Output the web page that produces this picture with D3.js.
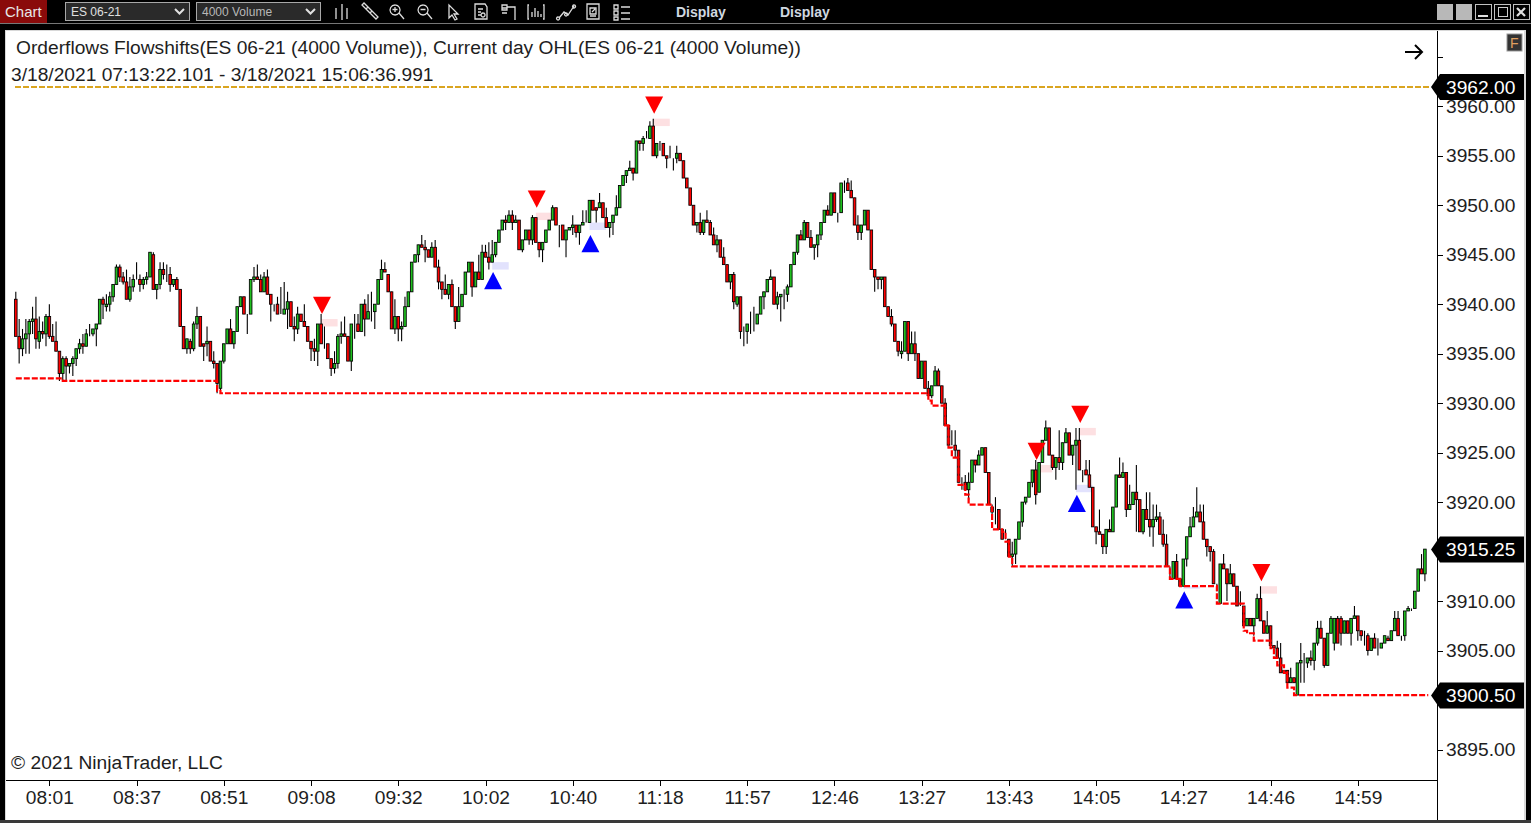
<!DOCTYPE html>
<html><head><meta charset="utf-8">
<script src="https://cdnjs.cloudflare.com/ajax/libs/d3/7.8.5/d3.min.js"></script>
<style>html,body{margin:0;padding:0;background:#000;overflow:hidden}svg{display:block}text{font-family:"Liberation Sans",Arial,sans-serif}</style>
</head><body><svg id="c" width="1531" height="823"></svg>
<script>
const titleText="Orderflows Flowshifts(ES 06-21 (4000 Volume)), Current day OHL(ES 06-21 (4000 Volume))";
const rangeText="3/18/2021 07:13:22.101 - 3/18/2021 15:06:36.991";
const copyrightText="\u00A9 2021 NinjaTrader, LLC";
const timeLabels=["08:01","08:37","08:51","09:08","09:32","10:02","10:40","11:18","11:57","12:46","13:27","13:43","14:05","14:27","14:46","14:59"];
const timeBars=[10,36,62,88,114,140,166,192,218,244,270,296,322,348,374,400];
const priceTicks=[3965,3960,3955,3950,3945,3940,3935,3930,3925,3920,3915,3910,3905,3900,3895];
const priceLabelsHidden=[3965,3915,3900];
const opens=[
3940.5,3936.75,3935.5,3936.5,3937,3938.25,3938.5,3936.25,3937.25,3937,
3938.75,3936.75,3936.25,3935.25,3933,3934.5,3933.75,3934,3934.5,3935.5,
3936,3935.75,3937,3937,3937.5,3938,3940.5,3939.75,3940,3940.75,
3942,3943.75,3942.75,3942.25,3940.5,3941.75,3942.5,3942.5,3942,3942.5,
3942.75,3945,3941.5,3942,3943.5,3943,3943,3942,3942.5,3941.5,
3937.75,3935.5,3936.25,3935.5,3938,3938.75,3936,3936,3936.25,3934.25,
3934,3931.5,3934.25,3936,3937.5,3936,3937.25,3939.75,3940.75,3939,
3939,3942.5,3942.75,3942.5,3941.25,3942.75,3941,3940,3940,3939,
3939,3939.5,3940.25,3937.75,3937.5,3939,3938.25,3937.75,3936.25,3935.5,
3935.25,3938,3936,3936,3934.5,3933.5,3934,3936.75,3937,3936.75,
3934.25,3938,3938,3937.25,3940,3938.5,3939.25,3939.25,3940,3942.5,
3943.5,3943,3941.25,3937.5,3938.75,3937.5,3937.75,3939.75,3941.25,3944.25,
3945,3946,3945.75,3945.5,3944.75,3945.75,3943.75,3942.25,3941.5,3941,
3942,3939.75,3938.25,3939.75,3941,3943.25,3944.25,3941.75,3943.25,3942.5,
3945.25,3944.75,3944.25,3945,3946.25,3947.5,3948.5,3948.25,3949,3948.25,
3948.5,3945.5,3946.5,3947.5,3946.5,3948.75,3946.25,3945.5,3946.25,3947.5,
3948.5,3949.75,3948,3948,3946.5,3947.5,3947.75,3948,3947.25,3948,
3948.25,3948.25,3950.5,3949.75,3949.75,3950.25,3948.75,3947.75,3948.25,3949,
3949.75,3952,3953,3953.5,3953.75,3953.25,3956.5,3956.25,3956.75,3956.75,
3958,3955,3956.25,3956.25,3955,3954.75,3954.75,3954.75,3955.25,3954.5,
3952.75,3951.75,3950,3948,3948.25,3947.25,3948.5,3948.25,3947,3946,
3946.5,3944.75,3944,3942.25,3943,3940,3940.75,3937.25,3937.25,3938,
3938,3938,3939,3940.75,3941.25,3942.5,3942.75,3940,3940.75,3941,
3941,3941.75,3944,3945.25,3947,3946.5,3948.25,3946.75,3945.75,3946,
3947,3948.25,3949.5,3949,3951.25,3949.25,3949.25,3952.25,3952.25,3951.5,
3950.75,3948,3947.25,3948,3949.5,3947.5,3943.5,3942.75,3942.5,3942.75,
3939.75,3938.75,3938,3936.25,3935,3935.25,3938.25,3935,3936,3935,
3932.5,3934.25,3931.5,3930.75,3931.75,3933.25,3931.75,3930,3927.75,3925.75,
3925.75,3925.25,3922,3922,3921.25,3922,3924.25,3923.75,3924.75,3925.5,
3923,3919.5,3919.25,3919.25,3917.25,3916.25,3916.25,3914.5,3914.75,3916.25,
3918,3920,3920.5,3922,3923.25,3921,3924,3926.25,3927.5,3924.75,
3923.5,3924.5,3924,3926,3927,3924.75,3925.75,3926.25,3923.25,3923.25,
3922.75,3921.5,3917.5,3917,3916.75,3915.5,3917.25,3917,3919.5,3922.75,
3922.5,3923,3919.25,3919.75,3921,3920.25,3917,3919.25,3918.25,3917.5,
3918.25,3918.5,3916.75,3915.75,3913.5,3912.25,3914,3912.25,3911.5,3914.25,
3916.5,3917.5,3918.5,3919,3918,3916.25,3915.5,3915,3911.75,3909.75,
3913.75,3913.25,3911.75,3912.75,3911.5,3909.5,3909.5,3907.5,3908.25,3907.5,
3908.25,3910.25,3908,3906.75,3907.5,3905.5,3905.25,3904.25,3902.75,3903,
3901.75,3902.25,3900.5,3903.75,3904,3903.75,3904.25,3904,3905.75,3907.25,
3906.25,3903.5,3906.75,3905.75,3908.25,3908.25,3906.75,3908,3906.75,3908.25,
3908.5,3907,3906.5,3906.5,3905,3906.25,3905.25,3905.25,3905.75,3906.25,
3906,3907,3908.25,3906.5,3906.5,3909,3909.25,3909.25,3911,3913.25,3912.75];
const closes=[
3936.75,3935.5,3936.5,3937,3938.25,3938.5,3936.5,3937.25,3937,3938.75,
3936.75,3936.25,3935.25,3933,3934.5,3933.75,3934,3934.5,3935.5,3936,
3935.75,3937,3937,3937.5,3938,3940.5,3940,3940,3940.75,3942,
3943.75,3942.75,3942.25,3940.5,3941.75,3942.5,3942.5,3942,3942.5,3942.75,
3945.25,3941.5,3942,3943.5,3943,3943,3942,3942.5,3941.5,3937.75,
3935.5,3936.5,3935.5,3938,3938.75,3935.75,3935.75,3936.25,3934.25,3934,
3932,3934.25,3936,3937.5,3936,3937.25,3939.75,3940.75,3939,3939,
3942.5,3942.75,3942.5,3941.25,3942.75,3941,3940,3940,3939,3939,
3939.5,3940.25,3937.75,3937.5,3939,3938.25,3937.75,3936.25,3935.5,3935.25,
3938,3936,3936,3934.5,3933.5,3934,3936.75,3937,3936.75,3934.25,
3938,3938,3937.25,3940,3938.5,3939.25,3939.25,3940,3942.5,3943.5,
3943.25,3941.25,3937.5,3938.75,3937.5,3937.75,3939.75,3941.25,3944.25,3945,
3946,3945.75,3945.5,3944.75,3945.75,3943.75,3942.25,3941.5,3941,3942,
3939.75,3938.25,3939.75,3941,3943.25,3944.25,3941.75,3943.25,3942.5,3945.25,
3944.75,3944.25,3945,3946.25,3947.5,3948.5,3948.25,3949,3948.25,3948.5,
3945.5,3946.5,3947.5,3946.5,3948.75,3946.25,3945.5,3946.25,3947.5,3948.5,
3949.75,3948,3948,3946.5,3947.5,3947.75,3948,3947.25,3948,3948.25,
3948.25,3950.5,3949.5,3949.5,3950.25,3948.75,3947.75,3948.25,3949,3949.75,
3952,3953,3953.5,3953.75,3953.25,3956.5,3956.25,3956.75,3956.75,3958,
3955,3956.25,3956.25,3955,3954.75,3954.75,3954.75,3955.25,3954.5,3952.75,
3951.75,3950,3948,3948.25,3947.25,3948.5,3948.25,3947,3946,3946.5,
3944.75,3944,3942.25,3943,3940.25,3940.75,3937.25,3937.25,3938,3938,
3938,3939,3940.75,3941.25,3942.5,3942.75,3940,3940.75,3941,3941,
3941.75,3944,3945.25,3947,3946.5,3948.25,3946.75,3945.75,3946,3947,
3948.25,3949.5,3949,3951.25,3949.25,3949.25,3952.25,3952.25,3951.5,3950.75,
3948,3947.25,3948,3949.5,3947.5,3943.5,3942.75,3942.5,3942.75,3939.75,
3938.75,3938,3936.25,3935.25,3935.25,3938.25,3935,3936,3935,3932.5,
3934.25,3931.5,3930.75,3931.75,3933.25,3931.75,3930,3927.75,3925.75,3925.75,
3925.25,3922,3922,3921.25,3922,3924.25,3923.75,3924.75,3925.5,3923,
3919.75,3919,3919.25,3917.25,3916.25,3916.25,3914.5,3914.75,3916.25,3918,
3920,3920.5,3922,3923.25,3920.75,3924,3926.25,3927.5,3924.75,3923.5,
3924.5,3924,3926,3927,3924.75,3925.75,3926.25,3923.25,3923.25,3922.75,
3921.5,3917.5,3917,3916.75,3915.5,3917.25,3917,3919.5,3922.75,3922.5,
3923,3919.25,3919.75,3921,3920.25,3917,3919.25,3918.25,3917.5,3918.25,
3918.5,3916.75,3915.75,3913.5,3913.5,3914,3912.25,3911.5,3914.25,3916.5,
3917.5,3918.5,3919,3918,3916.25,3915.5,3915,3911.75,3911.75,3913.75,
3913.25,3911.75,3912.75,3911.5,3909.5,3909.5,3907.5,3908.25,3907.5,3908.25,
3910.25,3908,3906.75,3907.5,3905.5,3905.25,3904.25,3902.75,3903,3901.75,
3902.25,3901.75,3903.75,3904,3904,3904.25,3904,3905.75,3907.25,3906.25,
3903.5,3906.75,3908.25,3908.25,3905.75,3906.75,3908,3906.75,3908.25,3908.5,
3907,3906.5,3906.5,3905,3906.25,3905.25,3905.25,3905.75,3906.5,3906,
3907,3908.25,3906.5,3906.5,3909,3909.25,3909.25,3911,3913.25,3912.75,3915.25];
const highs=[
3941.25,3938.5,3937.5,3938.5,3938.5,3939.75,3940.75,3938.75,3938.25,3939,
3940,3938,3938.25,3935.25,3934.75,3934.75,3934,3934.75,3935.5,3936.5,
3937,3937.5,3938,3937.5,3938,3940.5,3940.75,3941,3941.25,3942,
3944,3944,3943.25,3943.5,3942.75,3943,3944.25,3943,3942.75,3943.25,
3945.25,3945.25,3942,3944.25,3944.25,3944,3943.75,3942.5,3942.75,3941.5,
3937.75,3936.5,3936.5,3938.25,3939.75,3938.75,3936,3937.75,3936.25,3935.25,
3934,3934.25,3936,3937.5,3938.5,3937.25,3939.75,3940.75,3940.75,3939,
3942.5,3943.75,3944,3943,3943.25,3943.5,3941,3940,3940.75,3941.75,
3942.25,3941.25,3940.25,3938.75,3939.75,3939,3940,3937.75,3936.25,3936.5,
3938,3939,3937.75,3936,3934.5,3935.25,3937,3938.25,3938.75,3936.75,
3938,3939,3939,3940,3940.5,3941,3941.25,3940,3942.5,3944.5,
3944.25,3943,3941.25,3940.5,3938.75,3938.25,3940.75,3941.25,3944.25,3945,
3946,3947,3946.5,3945.5,3946.25,3946.5,3944.5,3942.25,3943,3942,
3942.5,3939.75,3941.75,3941,3943.25,3944.25,3944.25,3943.25,3945,3946,
3946,3946.25,3946.5,3946.25,3947.5,3948.5,3949,3949.5,3949.5,3949,
3948.5,3946.5,3947.5,3947.5,3949,3948.75,3946.25,3946.25,3947.5,3948.5,
3950,3949.75,3948,3948,3947.5,3947.75,3949,3948,3948,3949.5,
3949.5,3950.5,3950.5,3949.75,3951.25,3950.25,3949.75,3948.25,3949,3951,
3952,3953,3953.5,3954.5,3953.75,3956.5,3956.5,3957,3957.5,3958.5,
3958.75,3956.25,3956.5,3956.25,3955,3956,3954.75,3956,3955.25,3954.5,
3952.75,3951.75,3950,3948.25,3949.25,3948.5,3949.5,3948.5,3947.75,3947,
3946.5,3945.75,3944,3943,3943.25,3940.75,3940.75,3937.75,3938,3939.25,
3939.75,3939,3940.75,3941.25,3942.5,3943.5,3942.75,3941.25,3941,3941.5,
3942,3944,3945.25,3947,3947.5,3948.5,3948.25,3947.5,3946,3947,
3948.25,3949.5,3950,3951.25,3951.25,3949.25,3952.25,3952.5,3952.75,3952.5,
3950.75,3949,3948,3949.5,3949.5,3947.5,3943.5,3942.75,3942.75,3942.75,
3939.75,3939.5,3938,3936.25,3936.25,3938.25,3938.25,3937.25,3937.25,3935,
3934.25,3934.25,3932.25,3931.75,3933.75,3933.5,3931.75,3930.5,3927.75,3927.25,
3927.25,3925.25,3922.5,3922.75,3923,3924.25,3924.25,3925.25,3925.5,3925.5,
3923,3919.75,3920.5,3919.25,3917.25,3917.25,3916.25,3916,3916.25,3918,
3920,3920.5,3922,3923.25,3924.25,3924,3926.25,3928.25,3927.5,3924.75,
3924.5,3927.25,3926,3927.5,3927,3925.75,3927.5,3927.5,3923.25,3924.25,
3924.25,3921.5,3917.5,3919.25,3916.75,3917.25,3918.25,3919.5,3922.75,3924.5,
3924,3923,3921.75,3921,3923.75,3920.25,3919.25,3921,3921,3919.75,
3919.75,3919,3918.25,3916.75,3913.5,3914,3914.75,3912.25,3914.25,3916.5,
3918.5,3919.5,3921.5,3919.75,3919.75,3916.25,3915.5,3915.25,3911.75,3913.75,
3914.75,3913.25,3913.75,3912.75,3911.5,3911,3909.5,3908.25,3908.25,3908.25,
3910.75,3911.5,3908,3909,3907.5,3905.5,3906,3905.75,3903,3903,
3903.25,3902.25,3903.75,3905.75,3904.75,3904.25,3905,3905.75,3908,3908,
3906.25,3906.75,3908.5,3908.25,3908.5,3908.5,3908,3908,3908.25,3909.5,
3908.5,3907,3907,3906.75,3906.25,3906.75,3906.25,3905.75,3906.5,3906.5,
3907,3909,3909,3906.5,3909,3909.5,3909.25,3911,3913.25,3914.75,3915.25];
const lows=[
3936.75,3934,3934.75,3935,3935,3937,3935.5,3935.5,3936.5,3935.75,
3936.5,3936.25,3935.25,3932.25,3932.25,3932.25,3933,3932.75,3933.75,3935,
3935,3935.75,3936.75,3936.75,3935.75,3938,3938.5,3939.25,3939.25,3940.25,
3942,3942.25,3942,3940.5,3940.25,3941.25,3942.5,3941.25,3941.5,3942,
3942.75,3941.5,3940.5,3941.5,3942.5,3942.25,3941.25,3941.75,3941.5,3937.75,
3935.5,3935,3935,3935.25,3937.5,3935.75,3934.25,3934.75,3934.25,3933.5,
3931,3931.25,3934,3936,3936,3935.5,3937.25,3939.75,3939,3937,
3939,3942.25,3942.5,3941.25,3941.25,3941,3938.25,3939.25,3939,3939,
3939,3937.5,3937.75,3936.25,3937,3938.25,3937.75,3936.25,3934.25,3934.25,
3933.75,3936,3935.5,3934.5,3932.75,3933,3933.5,3936,3936.75,3934.25,
3933.25,3936.5,3937.25,3937.25,3936.75,3938.5,3938.25,3937.5,3940,3942.5,
3943.25,3941.25,3937.5,3937,3936.25,3936.25,3937.75,3939.75,3941.25,3944.25,
3944.25,3945.75,3944.25,3944.75,3944.75,3943.75,3941.5,3940.5,3941,3940.5,
3939.75,3937.5,3938.25,3939.75,3941,3943.25,3940.75,3941.75,3942.5,3942.5,
3944.75,3943.5,3944.25,3944.75,3946.25,3947.5,3947.5,3948.25,3947.5,3948.25,
3945.5,3945.25,3946.5,3946,3946,3946.25,3944.75,3944.25,3946.25,3947.5,
3948.5,3948,3945.75,3946.5,3944.75,3947.5,3947,3946.75,3946,3948,
3948.25,3948.25,3949.5,3948.25,3949.75,3948.75,3947.75,3946.75,3947,3949,
3949.75,3952,3952.25,3953.5,3952.5,3953.25,3955.5,3955.5,3956.75,3956.75,
3955,3954.75,3955.5,3955,3953.75,3954.75,3953.5,3954.25,3954.5,3952.75,
3951.75,3950,3948,3947.25,3947,3947,3948.25,3947,3946,3945.25,
3944.75,3944,3942.25,3941.5,3939.5,3939.75,3936.5,3935.75,3936,3937,
3937.25,3938,3939,3939.5,3941.25,3942.5,3940,3939.5,3938.25,3939.5,
3940.25,3941.75,3944,3945,3946.5,3946.5,3946.75,3945.75,3944.5,3944.75,
3946.5,3948.25,3949,3949,3949.25,3948.25,3949.25,3951.25,3951.5,3950.75,
3948,3946.5,3946.5,3948,3947.5,3943.5,3941.25,3941.5,3941.5,3939.75,
3938.75,3937.75,3936.25,3934.75,3934.5,3935.25,3934.25,3935,3934.25,3932.5,
3932.5,3931.5,3930.75,3930.5,3931.75,3931.75,3930,3927.75,3925.75,3925.75,
3924.5,3922,3921.25,3921.25,3920.25,3922,3923,3923.75,3924.75,3923,
3919.75,3918.5,3917.75,3917.25,3916.25,3916.25,3914.5,3913.5,3913.75,3916.25,
3917.5,3919.75,3920.5,3921.5,3919.75,3921,3924,3926.25,3924.75,3923.25,
3922.25,3923.25,3923.25,3926,3924.75,3923.75,3921.25,3923.25,3922,3922.75,
3921.5,3917.5,3915.75,3916.75,3914.75,3914.75,3917,3917,3919.5,3922.5,
3922.5,3918.5,3919.25,3919.75,3917,3917,3916.75,3918.25,3916.5,3915.5,
3918,3916.75,3915.5,3913.5,3912.25,3912.25,3912.25,3911.5,3911.5,3913.5,
3916.5,3917.5,3918.5,3918,3916.25,3914.5,3914,3911.75,3911,3909.75,
3913.25,3910,3911.75,3911.5,3909.5,3909.5,3907.5,3907.5,3907.5,3906.5,
3908.25,3908,3906.75,3906.75,3905.5,3905.25,3904.25,3902.75,3902.75,3901.75,
3901.75,3901.75,3900.5,3901.75,3901.75,3903.25,3903.5,3903,3905.5,3906.25,
3903.25,3903.5,3906.75,3905,3905.75,3905.5,3906.75,3906.75,3905.5,3908.25,
3906,3906,3905.5,3904.5,3905,3905.25,3904.5,3905.25,3905.75,3906,
3906,3907,3906.5,3906,3906,3909,3909,3909.25,3911,3912.75,3912];
const dayLowBars=[0,14,60,61,272,273,277,278,279,281,283,284,291,294,295,296,297,344,347,358,366,367,369,374,375,376,378,379,381,421];
const dayLowValues=[3932.5,3932.25,3931.25,3931,3930.25,3929.75,3927.75,3925.5,3924.5,3921.75,3920.75,3919.75,3917.25,3917,3916,3914.5,3913.5,3912.25,3911.5,3909.75,3907,3906.75,3906,3905.25,3904.25,3903.5,3902.75,3901.25,3900.5,3900.5];
const dayHigh=3962;
const lastPrice=3915.25;
const dayLowLast=3900.5;
const downBars=[91,155,190,304,317,371];
const downPrices=[3939,3949.75,3959.25,3924.25,3928,3912];
const upBars=[142,171,316,348];
const upPrices=[3943.25,3947,3920.75,3911];
const pinkTop=[3938.5,3949.25,3958.75,3923.75,3927.5,3911.5];
const pinkBottom=[3937.75,3948.5,3958,3923,3926.75,3910.75];
const blueTop=[3944.25,3948.25,3921.75,3911.5];
const blueBottom=[3943.5,3947.5,3921,3911.25];

const svg=d3.select("#c");
const textCol="#1e1e1e";
const x=d3.scaleLinear().domain([0,420]).range([15.8,1424.9]);
const y=d3.scaleLinear().domain([3962,3895]).range([86.5,749.5]);

// ---- window chrome
svg.append("rect").attr("width",1531).attr("height",823).attr("fill","#000");
svg.append("rect").attr("x",0).attr("y",0).attr("width",47).attr("height",23).attr("fill","#8a0a0a");
svg.append("text").attr("x",5).attr("y",17).attr("fill","#e8e8e8").attr("font-size",15).text("Chart");
[[65,124,"ES 06-21","#e0e0e0"],[196,124,"4000 Volume","#b8b8b8"]].forEach(d=>{
  svg.append("rect").attr("x",d[0]+.5).attr("y",2.5).attr("width",d[1]).attr("height",18).attr("fill","#2a2a2a").attr("stroke","#a8a8a8");
  svg.append("text").attr("x",d[0]+6).attr("y",16).attr("fill",d[3]).attr("font-size",12).text(d[2]);
  svg.append("path").attr("d",`M${d[0]+110} 9l4.5 4.5l4.5 -4.5`).attr("fill","none").attr("stroke","#e0e0e0").attr("stroke-width",2);
});
const ic=svg.append("g").attr("fill","none").attr("stroke","#dcdcdc").attr("stroke-width",1.3);
[
 "M336 8v11M342 4v16M347 8v11M336 10v6M342 7v9M347 10v6",
 "M362 5l14 14l2 -2l-14 -14zM366 9l2 -2M370 13l2 -2",
 "M395 5a5 5 0 1 0 .1 0M399 13l5 6M395 7v5M392.500 9.500h5",
 "M423 5a5 5 0 1 0 .1 0M427 13l5 6M420.500 9.500h5",
 "M449 5l0 13l3 -3l3 5l2 -1l-3 -5l4 0z",
 "M475 4h10l2 3v12h-12zM478 9h5M478 12h3M478 15h3M483 13a2 2 0 1 0 .1 0",
 "M502 5h5v5h-5zM502 13h5M507 7h8v13M502 8h5",
 "M529 5h-1v14h1M543 5h1v14h-1M532 17v-5M535 17v-9M538 17v-6M541 17v-3",
 "M559 18l5 -6l4 3l6 -9M558 17a1.500 1.500 0 1 0 .1 0M566 13a1.500 1.500 0 1 0 .1 0M574 5a1.500 1.500 0 1 0 .1 0",
 "M587 4h12v15h-12zM590 8h6v6h-6zM590 16h6M592 12l3 -3",
 "M614 5h4v4h-4zM614 11h4v4h-4zM614 17h4v3h-4zM621 7h9M621 13h9M621 19h9"
].forEach(p=>ic.append("path").attr("d",p));
["Display","Display"].forEach((t,i)=>svg.append("text").attr("x",[676,780][i]).attr("y",17).attr("fill","#d0d8e0").attr("font-size",14).attr("font-weight","bold").text(t));
[1437,1456].forEach(a=>svg.append("rect").attr("x",a).attr("y",4).attr("width",16).attr("height",16).attr("fill","#b8b8b8"));
[1475,1494,1513].forEach(a=>svg.append("rect").attr("x",a+.5).attr("y",4.5).attr("width",16).attr("height",15).attr("fill","#000").attr("stroke","#c0c0c0"));
svg.append("path").attr("d","M1478 16h10").attr("stroke","#e0e0e0").attr("stroke-width",2);
svg.append("rect").attr("x",1498.5).attr("y",7.5).attr("width",9).attr("height",9).attr("fill","none").attr("stroke","#ccc");
svg.append("path").attr("d","M1517 8l8 8M1525 8l-8 8").attr("stroke","#e0e0e0").attr("stroke-width",2.2);
svg.append("rect").attr("x",0).attr("y",23).attr("width",1531).attr("height",1).attr("fill","#777");

// ---- chart panel
svg.append("rect").attr("x",5).attr("y",30).attr("width",1521).attr("height",790).attr("fill","#d8d8d8");
svg.append("rect").attr("x",6).attr("y",31).attr("width",1518).attr("height",789).attr("fill","#fff");
svg.append("rect").attr("x",0).attr("y",820).attr("width",1531).attr("height",3).attr("fill","#3a3a3a");

// ---- pale zones
const g=svg.append("g");
g.selectAll(".pk").data(downBars).join("rect").attr("x",d=>x(d)).attr("width",16.5)
 .attr("y",(d,i)=>y(pinkTop[i])).attr("height",(d,i)=>y(pinkBottom[i])-y(pinkTop[i])).attr("fill","#fde0e2");
g.selectAll(".bl").data(upBars).join("rect").attr("x",d=>x(d)).attr("width",16.5)
 .attr("y",(d,i)=>y(blueTop[i])).attr("height",(d,i)=>y(blueBottom[i])-y(blueTop[i])).attr("fill","#e2e2fd");

// ---- candles
const idx=d3.range(opens.length);
const cg=svg.append("g");
cg.selectAll(".w").data(idx).join("line").attr("x1",i=>x(i)).attr("x2",i=>x(i))
 .attr("y1",i=>y(highs[i])).attr("y2",i=>y(lows[i])).attr("stroke","#000").attr("stroke-width",1.1);
cg.selectAll(".b").data(idx).join("rect").attr("x",i=>x(i)-1.3).attr("width",2.6)
 .attr("y",i=>y(Math.max(opens[i],closes[i])))
 .attr("height",i=>y(Math.min(opens[i],closes[i]))-y(Math.max(opens[i],closes[i])))
 .attr("fill",i=>closes[i]>opens[i]?"#1fbf1f":"#ff0000").attr("stroke","#000").attr("stroke-width",.85);

// ---- day high / low
svg.append("line").attr("x1",15).attr("x2",1430).attr("y1",87).attr("y2",87)
 .attr("stroke","#daa520").attr("stroke-width",2).attr("stroke-dasharray","6,2");
const low=d3.line().x(i=>x(dayLowBars[i])).y(i=>y(dayLowValues[i])).curve(d3.curveStepAfter);
svg.append("path").attr("d",low(d3.range(dayLowBars.length))).attr("fill","none").attr("stroke","#ff0000").attr("stroke-width",2.2).attr("stroke-dasharray","6,2");

// ---- triangles
const tw=9,th=17.3;
svg.selectAll(".dn").data(downBars).join("path").attr("fill","#ff0000")
 .attr("d",(d,i)=>{const a=x(d)+.9,b=y(downPrices[i]);return `M${a} ${b}L${a-tw} ${b-th}L${a+tw} ${b-th}Z`;});
svg.selectAll(".up").data(upBars).join("path").attr("fill","#0000ff")
 .attr("d",(d,i)=>{const a=x(d)+.9,b=y(upPrices[i]);return `M${a} ${b}L${a-tw} ${b+th}L${a+tw} ${b+th}Z`;});

// ---- axes
const fs=19.2;
svg.append("line").attr("x1",1437.5).attr("x2",1437.5).attr("y1",31).attr("y2",820).attr("stroke","#000");
svg.append("line").attr("x1",6).attr("x2",1437).attr("y1",780.5).attr("y2",780.5).attr("stroke","#000");
const ya=d3.axisRight(y).tickValues(priceTicks).tickSize(5).tickPadding(3)
  .tickFormat(d=>priceLabelsHidden.includes(d)?"":d3.format(".2f")(d));
const yg=svg.append("g").attr("transform","translate(1438,0)").call(ya);
yg.select(".domain").remove();
yg.selectAll("line").attr("stroke","#000").attr("shape-rendering","crispEdges");
yg.selectAll("text").attr("font-size",fs).attr("fill",textCol).attr("font-family","Liberation Sans");
const xa=d3.axisBottom(x).tickValues(timeBars).tickSize(5).tickPadding(4).tickFormat((d,i)=>timeLabels[i]);
const xg=svg.append("g").attr("transform","translate(0,781)").call(xa);
xg.select(".domain").remove();
xg.selectAll("line").attr("stroke","#000").attr("shape-rendering","crispEdges");
xg.selectAll("text").attr("font-size",fs).attr("fill",textCol).attr("font-family","Liberation Sans");

// ---- price flags
[[dayHigh,"#000"],[lastPrice,"#000"],[dayLowLast,"#000"]].forEach(d=>{
  const c=y(d[0])+.5;
  svg.append("path").attr("d",`M1431 ${c}L1440 ${c-13}H1524V${c+13}H1440Z`).attr("fill","#000");
  svg.append("text").attr("x",1446).attr("y",c+6.6).attr("fill","#fff").attr("font-size",fs).text(d3.format(".2f")(d[0]));
});

// ---- text
svg.append("text").attr("x",16).attr("y",54).attr("font-size",fs).attr("fill",textCol).text(titleText);
svg.append("text").attr("x",11).attr("y",81).attr("font-size",fs).attr("fill",textCol).text(rangeText);
svg.append("text").attr("x",11).attr("y",769).attr("font-size",fs).attr("fill",textCol).text(copyrightText);
svg.append("path").attr("d","M1405 52H1422M1415 45L1422 52L1415 59").attr("fill","none").attr("stroke","#000").attr("stroke-width",2);
svg.append("rect").attr("x",1507).attr("y",34).attr("width",15).attr("height",17).attr("fill","#333").attr("stroke","#999");
svg.append("text").attr("x",1510).attr("y",48).attr("font-size",14).attr("fill","#e0a060").text("F");
</script></body></html>
